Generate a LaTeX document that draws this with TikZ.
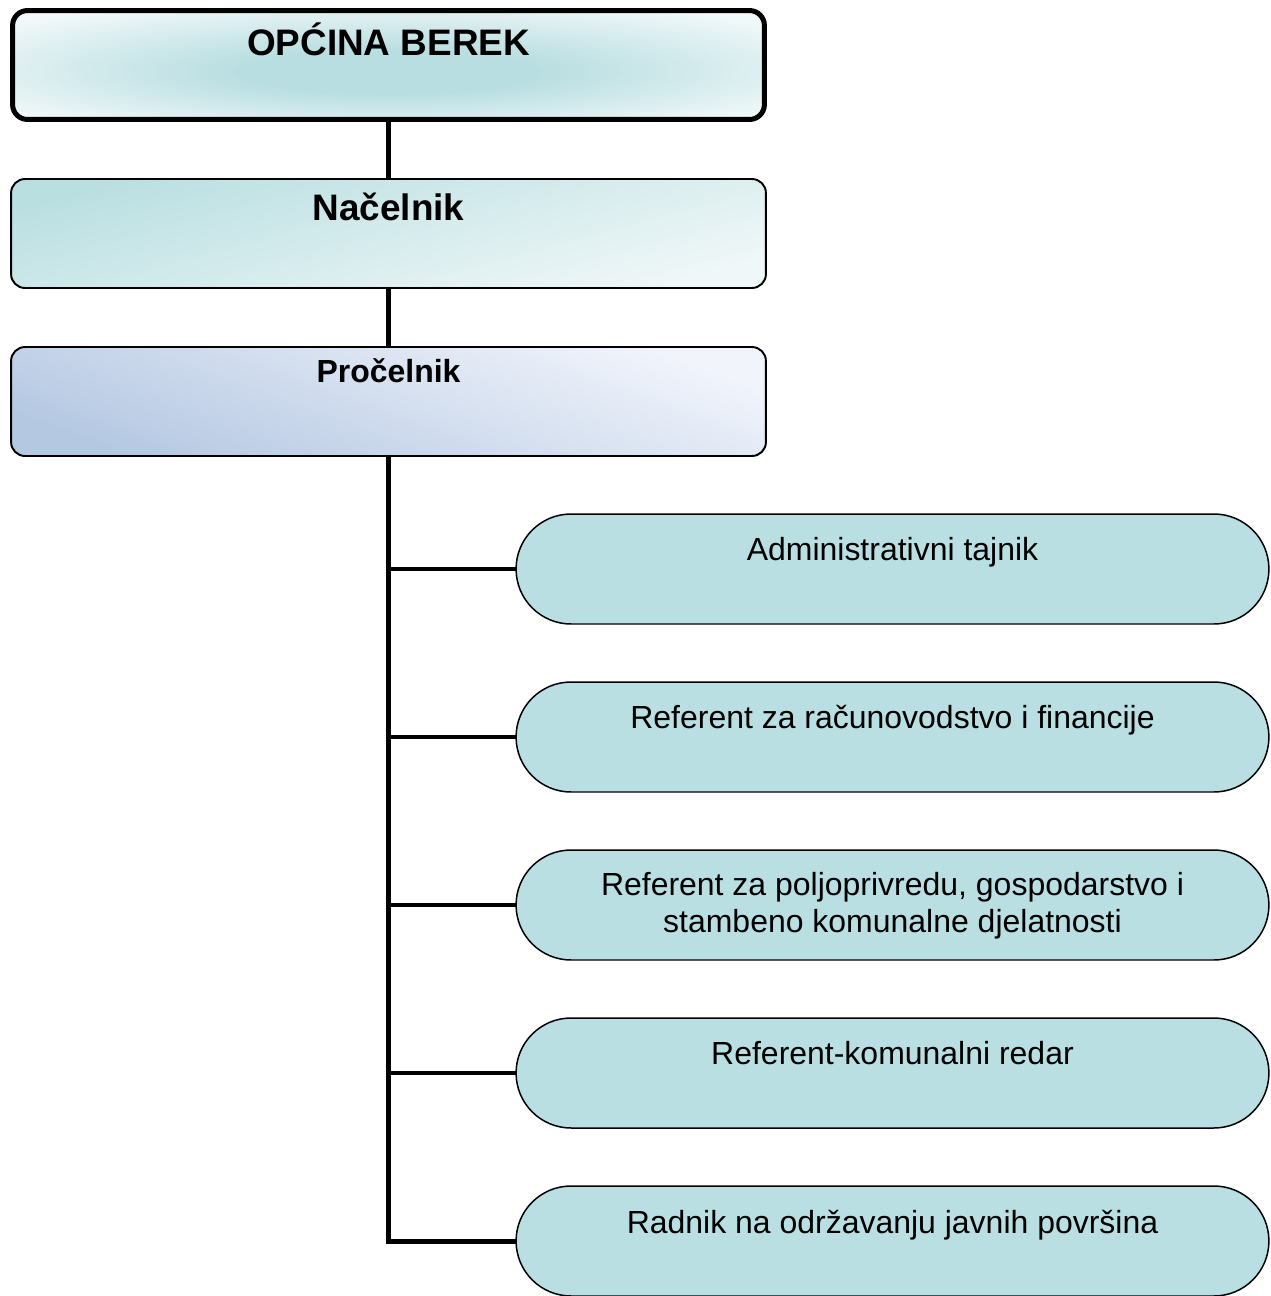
\documentclass[tikz,border=0pt]{standalone}
\usepackage{fontspec}
\setmainfont{Liberation Sans}
\usetikzlibrary{shapes.misc}
\definecolor{headteal}{HTML}{B9DEE1}
\definecolor{headpale}{HTML}{F3F9FA}
\definecolor{nacteal}{HTML}{BADFE1}
\definecolor{naclight}{HTML}{F0F7F8}
\definecolor{problue}{HTML}{B5C8E2}
\definecolor{prolight}{HTML}{F1F4FB}
\definecolor{unitfill}{HTML}{BADFE2}
\pgfdeclareradialshading{headglow}{\pgfpoint{0bp}{-4bp}}{%
  color(0bp)=(headteal); color(10bp)=(headteal); color(33bp)=(headpale); color(50bp)=(headpale)}
\begin{document}
\begin{tikzpicture}
[x=0.02cm,y=-0.02cm,
  headdecorate/.style={shape=rectangle,rounded corners=0.3cm,draw,line width=0.1cm,
    minimum width=15.04cm,minimum height=2.18cm,inner sep=0pt,outer sep=0pt,
    shading=headglow},
  boxdecorate/.style={shape=rectangle,rounded corners=0.28cm,draw,line width=1.1pt,
    minimum width=15.1cm,minimum height=2.18cm,inner sep=0pt,outer sep=0pt},
  unitdecorate/.style={shape=rounded rectangle,draw,line width=0.85pt,fill=unitfill,
    minimum width=15.06cm,minimum height=2.2cm,inner sep=0pt,outer sep=0pt},
  titletext/.style={anchor=base,inner sep=0pt,font=\fontsize{21pt}{25pt}\selectfont\bfseries},
  unittext/.style={anchor=base,inner sep=0pt,align=center,font=\fontsize{18.2pt}{20.6pt}\selectfont},
  linedecorate/.style={-,line width=0.1cm},
  branchdecorate/.style={-,line width=0.08cm}]
\useasboundingbox (0,0) rectangle (1271,1296);
%%% upper levels
% nodes
\node (opcina) at (388.5,65) [headdecorate] {};
\node (opcinat) at (388.5,55) [titletext] {OPĆINA BEREK};
\node (nacelnik) at (388.5,233.5) [boxdecorate,shading=axis,top color=nacteal,bottom color=naclight,shading angle=15] {};
\node (nacelnikt) at (388.5,220) [titletext] {Načelnik};
\node (procelnik) at (388.5,401.5) [boxdecorate,shading=axis,top color=prolight,bottom color=problue,shading angle=-20] {};
\node (procelnikt) at (388.5,382) [titletext,font=\fontsize{18.2pt}{21pt}\selectfont\bfseries] {Pročelnik};
% edges
\path
(opcina) edge[linedecorate] (nacelnik)
(nacelnik) edge[linedecorate] (procelnik);
%
%%% units below the Pročelnik
% nodes
\node (tajnik) at (892.5,569) [unitdecorate] {};
\node (tajnikt) at (892.5,560) [unittext] {Administrativni tajnik};
\node (racun) at (892.5,737) [unitdecorate] {};
\node (racunt) at (892.5,728) [unittext] {Referent za računovodstvo i financije};
\node (poljo) at (892.5,905) [unitdecorate] {};
\node (poljot) at (892.5,932) [unittext] {Referent za poljoprivredu, gospodarstvo i\\stambeno komunalne djelatnosti};
\node (redar) at (892.5,1073) [unitdecorate] {};
\node (redart) at (892.5,1064) [unittext] {Referent-komunalni redar};
\node (radnik) at (892.5,1241) [unitdecorate] {};
\node (radnikt) at (892.5,1233) [unittext] {Radnik na održavanju javnih površina};
% edges
\draw[linedecorate] (procelnik.south) |- (radnik.west);
\foreach \unit in {tajnik,racun,poljo,redar}
  \draw[branchdecorate] (procelnik.south |- \unit.west) -- (\unit.west);
\end{tikzpicture}
\end{document}
